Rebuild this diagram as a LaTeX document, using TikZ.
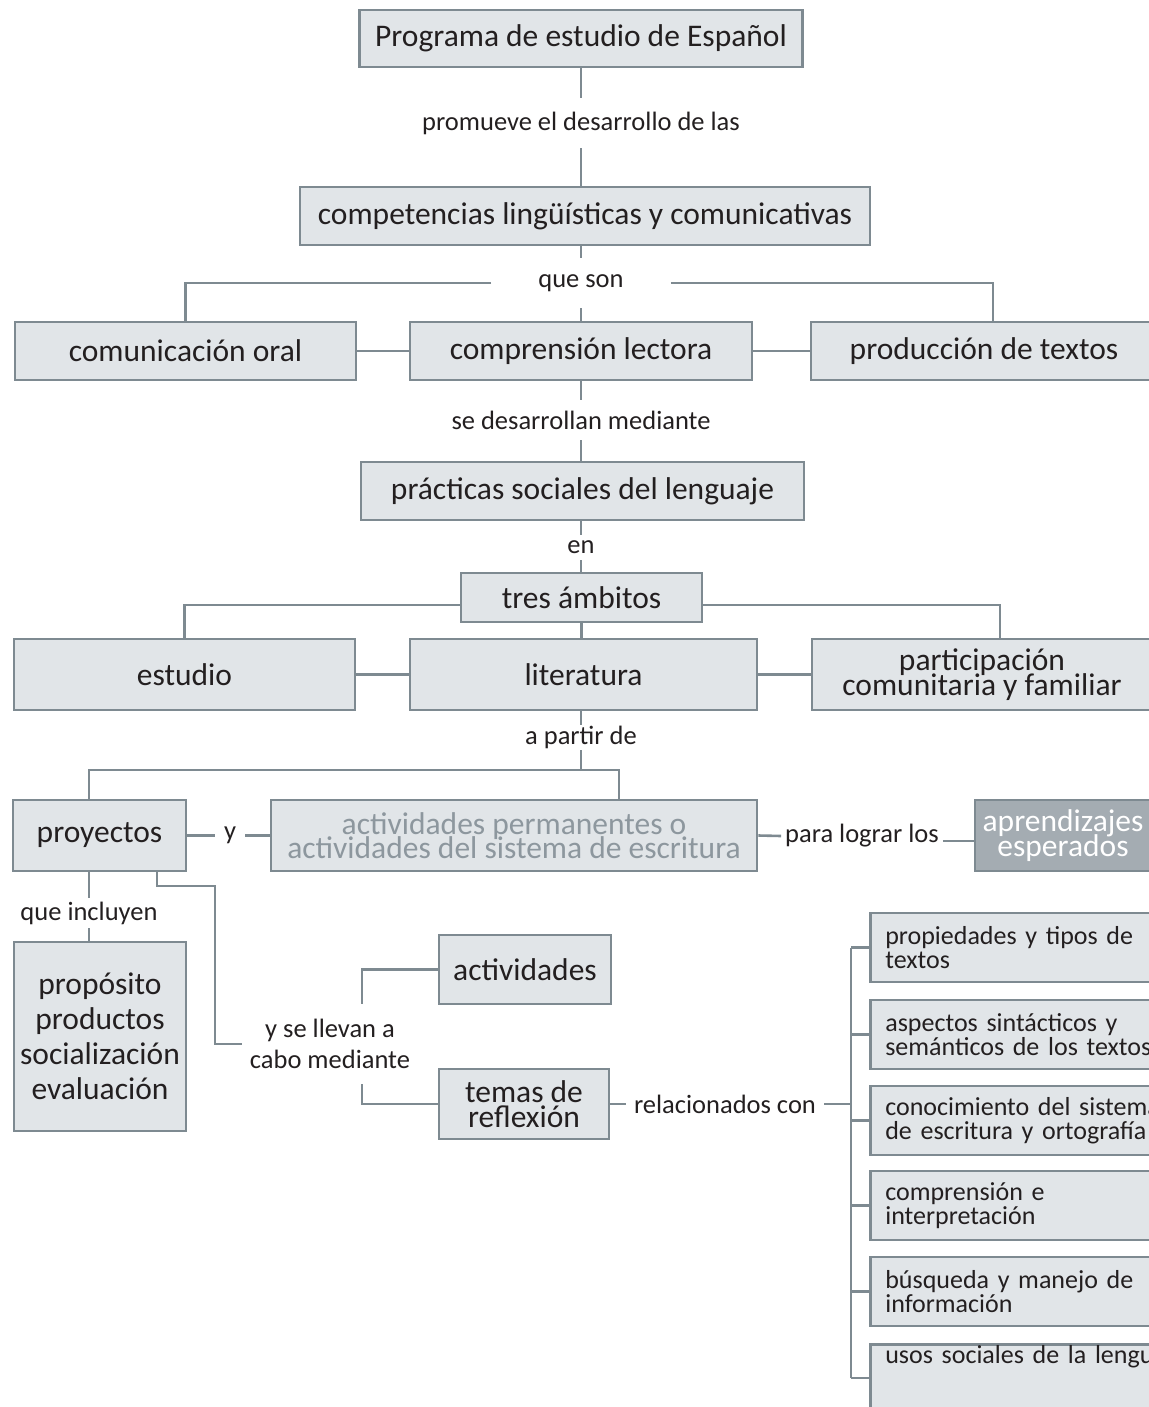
\documentclass[tikz,border=0pt]{standalone}
\usepackage{fontspec}
\setmainfont{Carlito}
\definecolor{ln}{HTML}{7E8A91}
\definecolor{bx}{HTML}{E1E5E8}
\definecolor{tx}{HTML}{231F20}
\definecolor{gtx}{HTML}{8D979E}
\definecolor{dbx}{HTML}{A4ACB2}
\begin{document}
\begin{tikzpicture}[x=1pt,y=-1pt,
 box/.style={draw=ln, fill=bx, line width=2.6pt, inner sep=0pt, text=tx, font={\fontsize{31.5}{24.5}\selectfont\lineskiplimit=-50pt}, align=center},
 lbl/.style={inner sep=0pt, text=tx, font=\fontsize{26.5}{31}\selectfont, align=center},
 conn/.style={draw=ln, line width=2.6pt},
 rbox/.style={box, font={\fontsize{26}{23.5}\selectfont\lineskiplimit=-50pt}, align=left, text width=400pt, minimum height=69pt, anchor=west, inner xsep=15pt}]
\useasboundingbox (0,0) rectangle (1148,1407);

\node[box, minimum width=443pt, minimum height=57pt] (prog) at (581,38.5) {Programa de estudio de Español};
\node[lbl, minimum height=50pt] (prom) at (581,123) {promueve el desarrollo de las};
\node[box, minimum width=570pt, minimum height=58pt] (comp) at (585,216) {competencias lingüísticas y comunicativas};
\node[lbl, minimum height=50pt, inner xsep=47pt] (qs) at (581,283) {que son};
\node[box, minimum width=341pt, minimum height=58pt] (coral) at (185.5,351) {comunicación oral};
\node[box, minimum width=342pt, minimum height=58pt] (clect) at (581,351) {comprensión lectora};
\node[box, minimum width=346pt, minimum height=58pt] (prod) at (984,351) {producción de textos};
\node[lbl, minimum height=40pt] (sdm) at (581,420) {se desarrollan mediante};
\node[box, minimum width=443pt, minimum height=58pt] (pract) at (582.5,491) {prácticas sociales del lenguaje};
\node[lbl, minimum height=25pt] (en) at (581,547.5) {en};
\node[box, minimum width=241pt, minimum height=49pt] (tres) at (581.5,597.5) {tres ámbitos};
\node[box, minimum width=341pt, minimum height=71pt] (est) at (184.5,674.5) {estudio};
\node[box, minimum width=347pt, minimum height=71pt] (lit) at (583.5,674.5) {literatura};
\node[box, minimum width=340pt, minimum height=71pt] (part) at (982,674.5) {participación\\comunitaria y familiar};
\node[lbl, minimum height=25pt] (apd) at (581,737.5) {a partir de};
\node[box, minimum width=173pt, minimum height=71pt] (proy) at (99.5,835.5) {proyectos};
\node[lbl, minimum width=30pt] (yy) at (230,835.5) {y};
\node[box, minimum width=486pt, minimum height=71pt, text=gtx] (actp) at (514,835.5) {actividades permanentes o\\actividades del sistema de escritura};
\node[lbl, inner xsep=4pt] (plog) at (862,836) {para lograr los};
\node[box, fill=dbx, text=white, minimum width=176pt, minimum height=71pt] (apr) at (1063,835.5) {aprendizajes\\esperados};
\node[lbl, minimum height=30pt] (qi) at (89,913) {que incluyen};
\node[box, minimum width=172pt, minimum height=189pt, font={\fontsize{31.5}{35}\selectfont}] (prop) at (100,1036.5) {propósito\\productos\\socialización\\evaluación};
\node[box, minimum width=172pt, minimum height=69pt] (activ) at (525,969.5) {actividades};
\node[lbl, inner xsep=8pt, minimum height=80pt] (ylev) at (330,1044) {y se llevan a\\cabo mediante};
\node[box, minimum width=170pt, minimum height=70pt] (temas) at (524,1104) {temas de\\reflexión};
\node[lbl, inner xsep=8pt] (rel) at (725,1104) {relacionados con};

\node[rbox] (r1) at (869,947.5) {propiedades y tipos de\\textos};
\node[rbox] (r2) at (869,1034.5) {aspectos sintácticos y\\semánticos de los textos};
\node[rbox] (r3) at (869,1120.5) {conocimiento del sistema\\de escritura y ortografía};
\node[rbox] (r4) at (869,1205.5) {comprensión e\\interpretación};
\node[rbox] (r5) at (869,1291.5) {búsqueda y manejo de\\información};
\node[rbox, anchor=north west, minimum height=0pt, inner ysep=0pt, text height=19pt, text depth=81pt] (r6) at (869,1343) {usos sociales de la lengua};

% connectors
\draw[conn] (prog.south) -- (prom.north);
\draw[conn] (prom.south) -- (prom.south |- comp.north);
\draw[conn] (comp.south -| qs) -- (qs.north);
\draw[conn] (qs.south) -- (qs.south |- clect.north);
\draw[conn] (qs.west) -| (coral.north);
\draw[conn] (qs.east) -| ([xshift=9pt]prod.north);
\draw[conn] (coral.east) -- (clect.west);
\draw[conn] (clect.east) -- (prod.west);
\draw[conn] (clect.south) -- (sdm.north);
\draw[conn] (sdm.south) -- (sdm.south |- pract.north);
\draw[conn] (pract.south -| en) -- (en.north);
\draw[conn] (en.south) -- (en.south |- tres.north);
\draw[conn] ([yshift=-7.5pt]tres.west) -| (est.north);
\draw[conn] ([yshift=-7.5pt]tres.east) -| ([xshift=18pt]part.north);
\draw[conn] (tres.south) -- (tres.south |- lit.north);
\draw[conn] (est.east) -- (lit.west);
\draw[conn] (lit.east) -- (part.west);
\draw[conn] (lit.south -| apd) -- (apd.north);
\coordinate (jL) at (89,770);
\coordinate (jR) at (619,770);
\draw[conn] (apd.south) -- (apd.south |- jL);
\draw[conn] (jL |- proy.north) -- (jL) -- (jR) -- (jR |- actp.north);
\draw[conn] (proy.east) -- (yy.west);
\draw[conn] (yy.east) -- (actp.west);
\draw[conn] (actp.east) -- (plog.west);
\draw[conn] ([yshift=-5pt]plog.east) coordinate (pe) -- (pe -| apr.west);
\draw[conn] (proy.south -| qi) -- (qi.north);
\draw[conn] (qi.south) -- (qi.south |- prop.north);
\coordinate (k1) at (215,886);
\draw[conn] ([xshift=57.5pt]proy.south) |- (k1) |- (ylev.west);
\draw[conn] ([xshift=32pt]ylev.north) |- (activ.west);
\draw[conn] ([xshift=32pt]ylev.south) |- (temas.west);
\draw[conn] (temas.east) -- (rel.west);
\coordinate (b) at (851,947.5);
\draw[conn] (rel.east) -- (rel.east -| b);
\draw[conn] (r1.west -| b) -- ([yshift=-35pt]r6.north west -| b);
\foreach \r in {r1,r2,r3,r4,r5} \draw[conn] (\r.west) -- (\r.west -| b);
\draw[conn] ([yshift=-35pt]r6.north west) -- ([yshift=-35pt]r6.north west -| b);
\end{tikzpicture}
\end{document}
